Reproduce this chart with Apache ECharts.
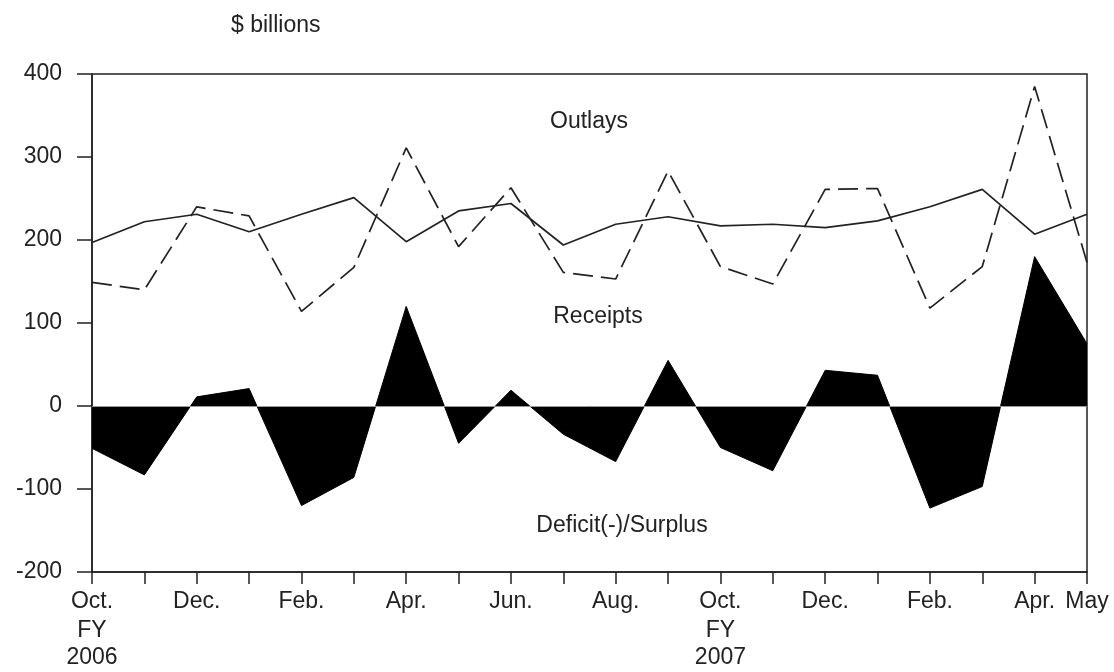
<!DOCTYPE html>
<html>
<head>
<meta charset="utf-8">
<style>
  html, body { margin: 0; padding: 0; background: #fff; }
  #chart { width: 1114px; height: 672px; }
</style>
<script src="https://cdn.jsdelivr.net/npm/echarts@6/dist/echarts.min.js"></script>
</head>
<body>
<div id="chart"></div>
<script>
// Months Oct 2005 (FY2006) .. May 2007
const months = ['2005-10','2005-11','2005-12','2006-01','2006-02','2006-03','2006-04','2006-05','2006-06','2006-07',
                '2006-08','2006-09','2006-10','2006-11','2006-12','2007-01','2007-02','2007-03','2007-04','2007-05'];
const tickLabels = ['Oct.|FY|2006','','Dec.','','Feb.','','Apr.','','Jun.','','Aug.','','Oct.|FY|2007','','Dec.','','Feb.','','Apr.','May'];
// $ billions
const outlays  = [197, 222, 231, 210, 231, 251, 198, 235, 244, 194, 219, 228, 217, 219, 215, 223, 240, 261, 207, 231];
const receipts = [149, 140, 240, 229, 114, 167, 311, 192, 263, 161, 153, 283, 168, 147, 261, 262, 118, 168, 385, 173];
const deficit  = [-51, -83, 11, 21, -120, -86, 120, -45, 19, -34, -67, 55, -50, -78, 43, 37, -123, -97, 180, 75];
const yTicks = { min: -200, max: 400, interval: 100 };

const FONT = 'Liberation Sans, Arial, sans-serif';
const INK = '#222';
const FS = 23;

const chart = echarts.init(document.getElementById('chart'), null, { renderer: 'canvas' });
chart.setOption({
  backgroundColor: '#fff',
  animation: false,
  grid: { left: 92, right: 27, top: 74, bottom: 100, show: true, borderColor: INK, borderWidth: 1.5, backgroundColor: 'transparent' },
  title: {
    text: '$ billions', left: 226, top: 9,
    textStyle: { fontFamily: FONT, fontSize: FS, fontWeight: 'normal', color: INK }
  },
  xAxis: {
    type: 'category', data: months, boundaryGap: false,
    axisLine: { show: true, onZero: false, lineStyle: { color: INK, width: 1.5 } },
    axisTick: { show: true, interval: 0, length: 12, lineStyle: { color: INK, width: 1.5 } },
    splitLine: { show: false },
    axisLabel: {
      interval: 0, margin: 15, color: INK, fontFamily: FONT, fontSize: FS,
      formatter: (v, i) => {
        const t = tickLabels[i];
        if (!t) return '';
        const parts = t.split('|');
        if (parts.length === 1) return '{m|' + parts[0] + '}';
        return '{m|' + parts[0] + '}\n{f|' + parts[1] + '}\n{g|' + parts[2] + '}';
      },
      rich: {
        m: { fontFamily: FONT, fontSize: FS, color: INK, lineHeight: 30 },
        f: { fontFamily: FONT, fontSize: FS, color: INK, lineHeight: 28 },
        g: { fontFamily: FONT, fontSize: FS, color: INK, lineHeight: 26 }
      }
    }
  },
  yAxis: {
    type: 'value', min: yTicks.min, max: yTicks.max, interval: yTicks.interval,
    axisLine: { show: true, lineStyle: { color: INK, width: 1.5 } },
    axisTick: { show: true, length: 15, lineStyle: { color: INK, width: 1.5 } },
    splitLine: { show: false },
    axisLabel: { margin: 30, color: INK, fontFamily: FONT, fontSize: FS }
  },
  series: [
    {
      name: 'Deficit(-)/Surplus', type: 'line', data: deficit, showSymbol: false, symbol: 'none',
      lineStyle: { color: '#000', width: 1 },
      areaStyle: { color: '#000', opacity: 1, origin: 0 },
      z: 1,
      markLine: {
        silent: true, symbol: 'none', label: { show: false },
        lineStyle: { color: '#999', width: 1, type: 'solid' },
        data: [{ yAxis: 0 }], z: 5
      }
    },
    {
      name: 'Outlays', type: 'line', data: outlays, showSymbol: false, symbol: 'none',
      lineStyle: { color: INK, width: 1.7 }, z: 3
    },
    {
      name: 'Receipts', type: 'line', data: receipts, showSymbol: false, symbol: 'none',
      lineStyle: { color: INK, width: 1.7, type: [20, 8] }, z: 3
    }
  ],
  graphic: [
    { type: 'text', style: { text: 'Outlays', x: 589, y: 122, fill: INK, font: FS + 'px ' + FONT, textAlign: 'center', textVerticalAlign: 'middle' } },
    { type: 'text', style: { text: 'Receipts', x: 598, y: 317, fill: INK, font: FS + 'px ' + FONT, textAlign: 'center', textVerticalAlign: 'middle' } },
    { type: 'text', style: { text: 'Deficit(-)/Surplus', x: 622, y: 526, fill: INK, font: FS + 'px ' + FONT, textAlign: 'center', textVerticalAlign: 'middle' } }
  ]
});
</script>
</body>
</html>
